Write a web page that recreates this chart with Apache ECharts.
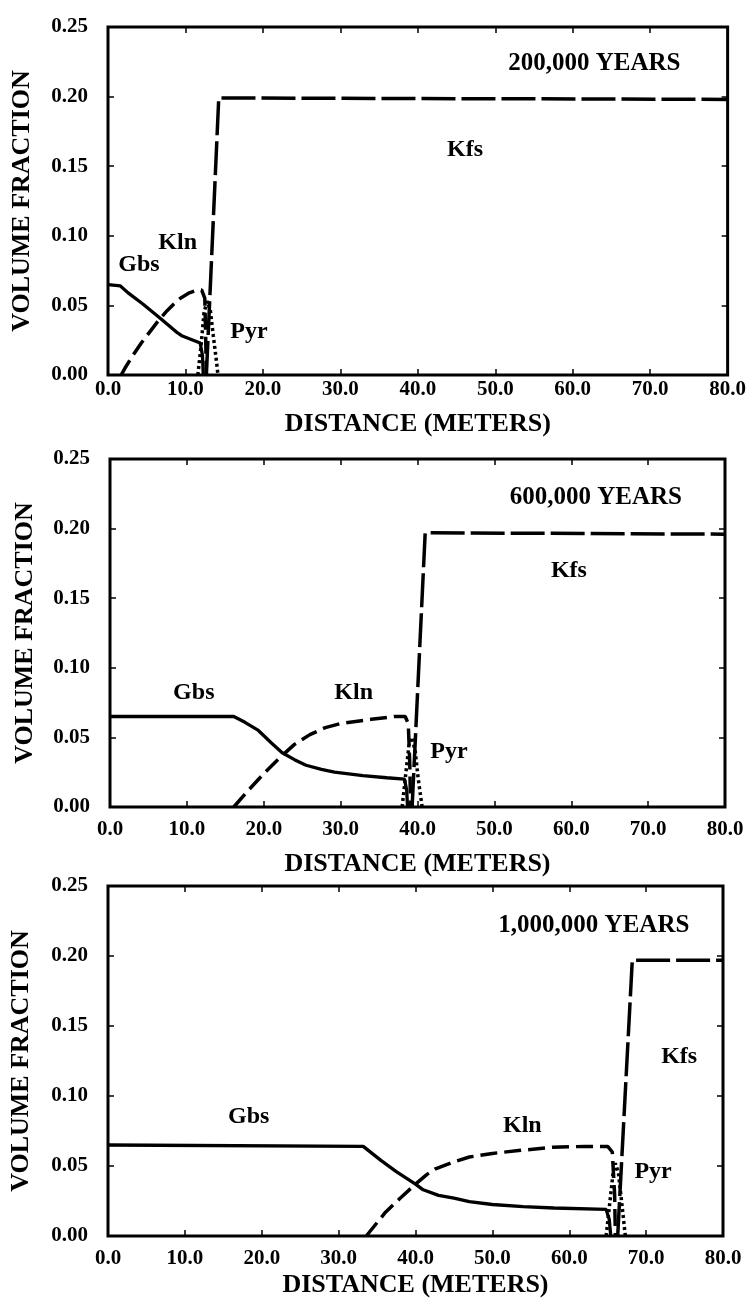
<!DOCTYPE html>
<html><head><meta charset="utf-8">
<script src="https://cdn.jsdelivr.net/npm/echarts/dist/echarts.min.js"></script>
<style>html,body{margin:0;padding:0;background:#fff}#c{width:749px;height:1303px}</style>
</head><body><div id="c"></div>
<script>
// ---------- data (distance m, volume fraction) ----------
const panelTitles = ['200,000 YEARS', '600,000 YEARS', '1,000,000 YEARS'];
const mineralNames = ['Gbs', 'Kln', 'Pyr', 'Kfs'];
const xAxisTitle = 'DISTANCE (METERS)';
const yAxisTitle = 'VOLUME FRACTION';

// 200,000 years
const gbs200k = [[0,0.065],[1.6,0.064],[2.6,0.059],[4.5,0.051],[6.7,0.041],[8.8,0.031],[9.6,0.028],[11.0,0.025],[11.9,0.023],[12.2,0.014],[12.3,0]];
const kln200k = [[1.7,0],[2.2,0.005],[3.2,0.014],[4.3,0.023],[5.4,0.031],[6.5,0.039],[7.6,0.046],[8.5,0.051],[9.3,0.055],[10.5,0.059],[11.5,0.061],[12.1,0.061],[12.5,0.055],[12.6,0.03],[12.7,0]];
const pyr200k = [[11.6,0],[12.0,0.02],[12.4,0.045],[12.8,0.053],[13.2,0.047],[13.6,0.028],[14.0,0.01],[14.2,0]];
const kfs200k = [[12.7,0],[14.3,0.199],[80,0.198]];

// 600,000 years
const gbs600k = [[0,0.065],[16.1,0.065],[17.5,0.061],[19.3,0.055],[21,0.046],[22.4,0.039],[24,0.034],[25.5,0.030],[27.5,0.027],[29.2,0.025],[32.9,0.0225],[36,0.021],[38.3,0.020],[38.6,0.012],[38.7,0]];
const kln600k = [[16.1,0],[18,0.012],[20,0.024],[22,0.035],[24,0.045],[26,0.052],[28,0.057],[30,0.060],[34,0.063],[37,0.065],[38.4,0.065],[38.8,0.060],[39.0,0.03],[39.1,0]];
const pyr600k = [[38.0,0],[38.5,0.025],[38.9,0.045],[39.3,0.05],[39.7,0.04],[40.1,0.02],[40.6,0]];
const kfs600k = [[39.3,0],[41.0,0.197],[80,0.196]];

// 1,000,000 years
const gbs1m = [[0,0.065],[33.2,0.064],[35.5,0.054],[37.5,0.046],[40,0.037],[41,0.033],[43,0.029],[45,0.027],[47,0.0245],[50,0.0225],[54,0.021],[58,0.020],[64.8,0.019],[65.2,0.012],[65.4,0]];
const kln1m = [[33.6,0],[36.1,0.017],[38,0.027],[40,0.037],[41.5,0.044],[42.6,0.048],[45,0.053],[47,0.0564],[50,0.059],[53.4,0.061],[57.8,0.0634],[62,0.064],[65.0,0.064],[65.6,0.06],[65.9,0.03],[66.0,0]];
const pyr1m = [[64.8,0],[65.3,0.025],[65.7,0.045],[66.0,0.052],[66.4,0.045],[66.8,0.025],[67.3,0]];
const kfs1m = [[66.3,0],[68.2,0.197],[80,0.197]];

const xTicks = {min: 0, max: 80, interval: 10};
const yTicks = {min: 0, max: 0.25, interval: 0.05};

// ---------- layout ----------
const F = '"Liberation Serif","Times New Roman",serif';
const panels = [
  {data:[gbs200k,kln200k,pyr200k,kfs200k], grid:{left:108,top:27,width:620,height:348}, lblMargin:4, xGap:36, yGap:73,
   annot:[[62.8,0.224],[9.0,0.095],[18.2,0.031],[46.1,0.162],[4.0,0.079]]},
  {data:[gbs600k,kln600k,pyr600k,kfs600k], grid:{left:110,top:459,width:615,height:348}, lblMargin:12, xGap:44, yGap:72,
   annot:[[63.2,0.222],[31.7,0.082],[44.1,0.040],[59.7,0.170],[10.9,0.082]]},
  {data:[gbs1m,kln1m,pyr1m,kfs1m], grid:{left:105,top:886,width:618,height:350}, lblMargin:12, xGap:36, yGap:74,
   annot:[[63.2,0.222],[53.9,0.079],[70.9,0.046],[74.3,0.128],[18.3,0.085]]}
];
const lineStyles = [
  {type:'solid', width:3.3},
  {type:[17,7], width:3.5},
  {type:[3,3], width:3.5},
  {type:[34,6], width:3.5}
];

const grid=[], xAxis=[], yAxis=[], series=[];
const tick = {show:true, inside:true, length:6, lineStyle:{color:'#000', width:1.5}};
const lblStyle = {color:'#000', fontFamily:F, fontWeight:'bold', fontSize:21};
const nameStyle = {color:'#000', fontFamily:F, fontWeight:'bold', fontSize:26};

panels.forEach((p, i) => {
  grid.push(Object.assign({show:true, borderColor:'#000', borderWidth:3, backgroundColor:'transparent'}, p.grid));
  xAxis.push({type:'value', gridIndex:i, position:'bottom', ...xTicks,
    axisLine:{show:false, onZero:false}, axisTick:tick, splitLine:{show:false},
    axisLabel:Object.assign({margin:p.lblMargin, formatter:v=>v.toFixed(1)}, lblStyle),
    name:xAxisTitle, nameLocation:'middle', nameGap:p.xGap, nameTextStyle:nameStyle});
  xAxis.push({type:'value', gridIndex:i, position:'top', ...xTicks,
    axisLine:{show:false, onZero:false}, axisTick:tick, splitLine:{show:false}, axisLabel:{show:false}});
  yAxis.push({type:'value', gridIndex:i, position:'left', ...yTicks,
    axisLine:{show:false, onZero:false}, axisTick:tick, splitLine:{show:false},
    axisLabel:Object.assign({margin:20, formatter:v=>v.toFixed(2)}, lblStyle),
    name:yAxisTitle, nameLocation:'middle', nameGap:p.yGap, nameTextStyle:nameStyle});
  yAxis.push({type:'value', gridIndex:i, position:'right', ...yTicks,
    axisLine:{show:false, onZero:false}, axisTick:tick, splitLine:{show:false}, axisLabel:{show:false}});

  p.data.forEach((d, k) => {
    series.push({type:'line', name:mineralNames[k], xAxisIndex:2*i, yAxisIndex:2*i, data:d,
      showSymbol:false, symbol:'none', lineStyle:Object.assign({color:'#000', cap:'butt'}, lineStyles[k]),
      animation:false, z:3});
  });

  const texts = [panelTitles[i], mineralNames[1], mineralNames[2], mineralNames[3], mineralNames[0]];
  series.push({type:'scatter', xAxisIndex:2*i, yAxisIndex:2*i, symbolSize:1,
    itemStyle:{color:'rgba(0,0,0,0)'}, animation:false, silent:true, z:5,
    data:p.annot.map((a, k) => ({value:[a[0], a[1]], name:texts[k],
      label:{show:true, position:'inside', formatter:texts[k], color:'#000', opacity:1,
        textBorderWidth:0, textBorderColor:'transparent', fontFamily:F,
        fontWeight:'bold', fontSize:k===0?25:24}}))});
});

const chart = echarts.init(document.getElementById('c'), null, {renderer:'canvas'});
chart.setOption({animation:false, backgroundColor:'#fff', grid, xAxis, yAxis, series});
</script></body></html>
